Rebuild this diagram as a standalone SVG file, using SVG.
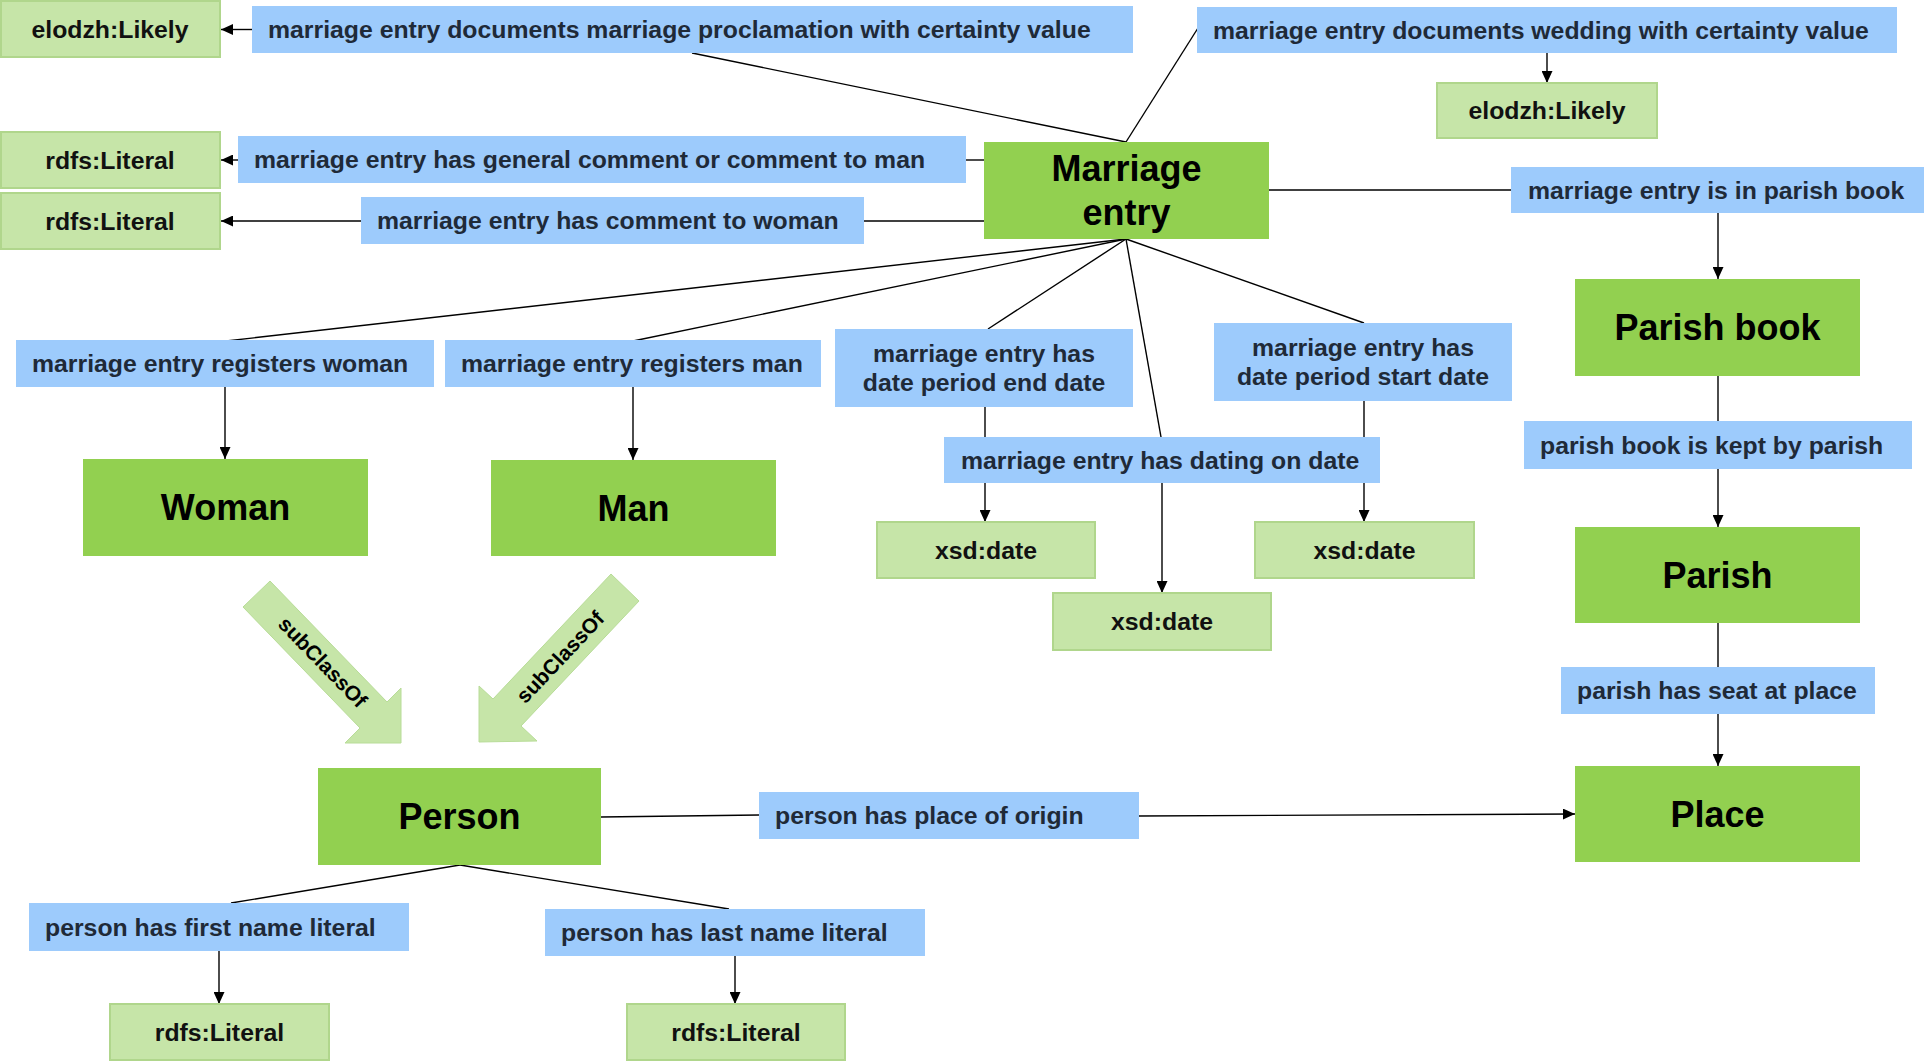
<svg xmlns="http://www.w3.org/2000/svg" width="1924" height="1063" viewBox="0 0 1924 1063">
<style>
  .cls rect { fill: #92d050; }
  .lit rect { fill: #c6e5a8; stroke: #b0d68c; stroke-width: 2; }
  .lbl rect { fill: #9dcbfc; }
  .cls text { font-family: "Liberation Sans", Arial, sans-serif; font-weight: bold; font-size: 36px; fill: #000; text-anchor: middle; }
  .lit text { font-family: "Liberation Sans", Arial, sans-serif; font-weight: bold; font-size: 24.8px; fill: #111; text-anchor: middle; }
  .lbl text { font-family: "Liberation Sans", Arial, sans-serif; font-weight: bold; font-size: 24.8px; fill: #1f2a38; }
  .lbl text.c { text-anchor: middle; }
  .conn line { stroke: #000; stroke-width: 1.4; fill: none; }
  .conn line.a { marker-end: url(#ah); }
  .sub polygon { fill: #c6e5a8; stroke: #b8dc98; stroke-width: 1; }
  .sub text { font-family: "Liberation Sans", Arial, sans-serif; font-weight: bold; font-size: 21px; fill: #000; text-anchor: middle; }
</style>
<defs>
  <marker id="ah" markerUnits="userSpaceOnUse" markerWidth="12" markerHeight="11" refX="12" refY="5.5" orient="auto">
    <path d="M0,0 L12,5.5 L0,11 z" fill="#000"/>
  </marker>
</defs>
<rect width="1924" height="1063" fill="#fff"/>

<g id="connectors" class="conn">
  <line class="a" x1="252" y1="29.5" x2="221" y2="29.5"/>
  <line x1="1126" y1="142" x2="692" y2="53"/>
  <line x1="1126" y1="142" x2="1198" y2="28"/>
  <line class="a" x1="1547" y1="53" x2="1547" y2="83"/>
  <line x1="984" y1="160" x2="966" y2="160"/>
  <line class="a" x1="238" y1="160" x2="221" y2="160"/>
  <line x1="984" y1="221" x2="864" y2="221"/>
  <line class="a" x1="361" y1="221" x2="221" y2="221"/>
  <line x1="1269" y1="190" x2="1511" y2="190"/>
  <line class="a" x1="1718" y1="213" x2="1718" y2="279"/>
  <line x1="1126" y1="239" x2="226" y2="341"/>
  <line x1="1126" y1="239" x2="633" y2="341"/>
  <line x1="1126" y1="239" x2="988" y2="329"/>
  <line x1="1126" y1="239" x2="1161" y2="437"/>
  <line x1="1126" y1="239" x2="1364" y2="323"/>
  <line class="a" x1="985" y1="407" x2="985" y2="522"/>
  <line class="a" x1="1364" y1="401" x2="1364" y2="522"/>
  <line class="a" x1="1162" y1="483" x2="1162" y2="593"/>
  <line class="a" x1="225" y1="387" x2="225" y2="459"/>
  <line class="a" x1="633" y1="387" x2="633" y2="460"/>
  <line x1="1718" y1="376" x2="1718" y2="421"/>
  <line class="a" x1="1718" y1="469" x2="1718" y2="527"/>
  <line x1="1718" y1="623" x2="1718" y2="667"/>
  <line class="a" x1="1718" y1="714" x2="1718" y2="766"/>
  <line x1="601" y1="817" x2="759" y2="815"/>
  <line class="a" x1="1139" y1="816" x2="1575" y2="814"/>
  <line x1="460" y1="865" x2="231" y2="903"/>
  <line x1="460" y1="865" x2="729" y2="909"/>
  <line class="a" x1="219" y1="951" x2="219" y2="1004"/>
  <line class="a" x1="735" y1="956" x2="735" y2="1004"/>
</g>

<g id="subclass-woman" class="sub">
  <polygon points="243,607 270,581 387,702 401,688 401,743 345,743 360,728"/>
  <text transform="translate(323,662) rotate(45.9)" y="7.5">subClassOf</text>
</g>
<g id="subclass-man" class="sub">
  <polygon points="611,574 639,601 521,726 537,741 479,742 479,686 493,699"/>
  <text transform="translate(560,657) rotate(-46.6)" y="7.5">subClassOf</text>
</g>

<g id="elodzh-likely-1" class="lit"><rect x="1" y="1" width="219" height="56"/><text x="110" y="37.5">elodzh:Likely</text></g>
<g id="lbl-proclamation" class="lbl"><rect x="252" y="6" width="881" height="47"/><text x="268" y="38">marriage entry documents marriage proclamation with certainty value</text></g>
<g id="lbl-wedding" class="lbl"><rect x="1197" y="7" width="700" height="46"/><text x="1213" y="38.5">marriage entry documents wedding with certainty value</text></g>
<g id="elodzh-likely-2" class="lit"><rect x="1437" y="83" width="220" height="55"/><text x="1547" y="119">elodzh:Likely</text></g>
<g id="rdfs-literal-1" class="lit"><rect x="1" y="132" width="219" height="56"/><text x="110" y="168.5">rdfs:Literal</text></g>
<g id="lbl-general-comment" class="lbl"><rect x="238" y="136" width="728" height="47"/><text x="254" y="168">marriage entry has general comment or comment to man</text></g>
<g id="rdfs-literal-2" class="lit"><rect x="1" y="193" width="219" height="56"/><text x="110" y="229.5">rdfs:Literal</text></g>
<g id="lbl-comment-woman" class="lbl"><rect x="361" y="197" width="503" height="47"/><text x="377" y="229">marriage entry has comment to woman</text></g>

<g id="marriage-entry" class="cls"><rect x="984" y="142" width="285" height="97"/><text x="1126.5" y="180.5">Marriage</text><text x="1126.5" y="225">entry</text></g>
<g id="lbl-in-parish-book" class="lbl"><rect x="1511" y="167" width="413" height="46"/><text x="1528" y="198.5">marriage entry is in parish book</text></g>

<g id="lbl-registers-woman" class="lbl"><rect x="16" y="340" width="418" height="47"/><text x="32" y="372">marriage entry registers woman</text></g>
<g id="lbl-registers-man" class="lbl"><rect x="445" y="340" width="376" height="47"/><text x="461" y="372">marriage entry registers man</text></g>
<g id="lbl-end-date" class="lbl"><rect x="835" y="329" width="298" height="78"/><text class="c" x="984" y="361.75">marriage entry has</text><text class="c" x="984" y="391.25">date period end date</text></g>
<g id="lbl-start-date" class="lbl"><rect x="1214" y="323" width="298" height="78"/><text class="c" x="1363" y="355.75">marriage entry has</text><text class="c" x="1363" y="385.25">date period start date</text></g>
<g id="lbl-dating" class="lbl"><rect x="944" y="437" width="436" height="46"/><text x="961" y="468.5">marriage entry has dating on date</text></g>
<g id="xsd-date-1" class="lit"><rect x="877" y="522" width="218" height="56"/><text x="986" y="558.5">xsd:date</text></g>
<g id="xsd-date-3" class="lit"><rect x="1255" y="522" width="219" height="56"/><text x="1364.5" y="558.5">xsd:date</text></g>
<g id="xsd-date-2" class="lit"><rect x="1053" y="593" width="218" height="57"/><text x="1162" y="630">xsd:date</text></g>

<g id="woman" class="cls"><rect x="83" y="459" width="285" height="97"/><text x="225.5" y="520">Woman</text></g>
<g id="man" class="cls"><rect x="491" y="460" width="285" height="96"/><text x="633.5" y="520.5">Man</text></g>

<g id="parish-book" class="cls"><rect x="1575" y="279" width="285" height="97"/><text x="1717.5" y="340">Parish book</text></g>
<g id="lbl-kept-by" class="lbl"><rect x="1524" y="421" width="388" height="48"/><text x="1540" y="453.5">parish book is kept by parish</text></g>
<g id="parish" class="cls"><rect x="1575" y="527" width="285" height="96"/><text x="1717.5" y="587.5">Parish</text></g>
<g id="lbl-seat" class="lbl"><rect x="1561" y="667" width="314" height="47"/><text x="1577" y="699">parish has seat at place</text></g>
<g id="place" class="cls"><rect x="1575" y="766" width="285" height="96"/><text x="1717.5" y="827">Place</text></g>

<g id="person" class="cls"><rect x="318" y="768" width="283" height="97"/><text x="459.5" y="829">Person</text></g>
<g id="lbl-place-origin" class="lbl"><rect x="759" y="792" width="380" height="47"/><text x="775" y="824">person has place of origin</text></g>
<g id="lbl-first-name" class="lbl"><rect x="29" y="903" width="380" height="48"/><text x="45" y="935.5">person has first name literal</text></g>
<g id="lbl-last-name" class="lbl"><rect x="545" y="909" width="380" height="47"/><text x="561" y="941">person has last name literal</text></g>
<g id="rdfs-literal-3" class="lit"><rect x="110" y="1004" width="219" height="56"/><text x="219.5" y="1040.5">rdfs:Literal</text></g>
<g id="rdfs-literal-4" class="lit"><rect x="627" y="1004" width="218" height="56"/><text x="736" y="1040.5">rdfs:Literal</text></g>
</svg>
